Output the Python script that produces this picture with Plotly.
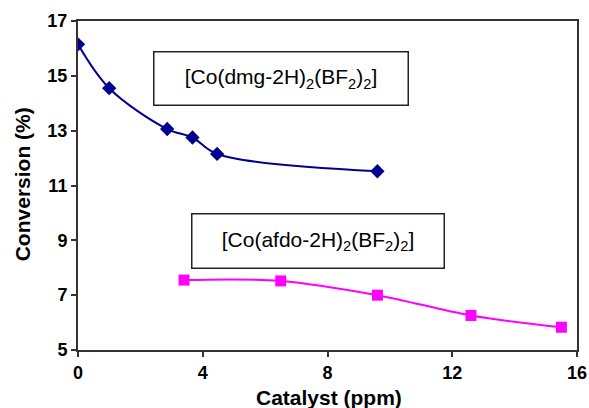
import plotly.graph_objects as go

dmg_x = [0, 1.0, 2.86, 3.67, 4.46, 9.6]
dmg_y = [16.15, 14.55, 13.06, 12.75, 12.15, 11.52]
afdo_x = [3.4, 6.5, 9.6, 12.6, 15.5]
afdo_y = [7.55, 7.52, 7.0, 6.26, 5.83]

x_ticks = [0, 4, 8, 12, 16]
y_ticks = [5, 7, 9, 11, 13, 15, 17]

FONT = "Liberation Sans, Arial"

fig = go.Figure()
fig.add_trace(go.Scatter(x=dmg_x, y=dmg_y, mode="lines+markers",
                         line=dict(color="#000090", width=2, shape="spline", smoothing=1),
                         marker=dict(symbol="diamond", size=11, color="#000090")))
fig.add_trace(go.Scatter(x=afdo_x, y=afdo_y, mode="lines+markers",
                         line=dict(color="#FF00FF", width=2, shape="spline", smoothing=1),
                         marker=dict(symbol="square", size=11, color="#FF00FF")))

fig.add_annotation(xref="paper", yref="paper", x=0.406, y=0.824,
                   xanchor="center", yanchor="middle",
                   text="[Co(dmg-2H)<sub>2</sub>(BF<sub>2</sub>)<sub>2</sub>]",
                   showarrow=False, width=249, height=48, borderpad=2,
                   bordercolor="#222", borderwidth=1.5, bgcolor="white",
                   font=dict(family=FONT, size=21, color="black"))
fig.add_annotation(xref="paper", yref="paper", x=0.48, y=0.331,
                   xanchor="center", yanchor="middle",
                   text="[Co(afdo-2H)<sub>2</sub>(BF<sub>2</sub>)<sub>2</sub>]",
                   showarrow=False, width=247, height=49, borderpad=2,
                   bordercolor="#222", borderwidth=1.5, bgcolor="white",
                   font=dict(family=FONT, size=21, color="black"))

# axis titles
fig.add_annotation(xref="paper", yref="paper", x=0.504, y=-0.145,
                   xanchor="center", yanchor="middle", showarrow=False,
                   text="<b>Catalyst (ppm)</b>",
                   font=dict(family=FONT, size=21, color="black"))
fig.add_annotation(xref="paper", yref="paper", x=-0.112, y=0.504,
                   xanchor="center", yanchor="middle", showarrow=False,
                   textangle=-90, text="<b>Conversion (%)</b>",
                   font=dict(family=FONT, size=21, color="black"))

axis_common = dict(showgrid=False, zeroline=False, showline=True, linecolor="#333",
                   linewidth=2, mirror=True, ticks="outside", ticklen=5, tickwidth=2,
                   tickcolor="#333", automargin=False,
                   tickfont=dict(family=FONT, size=18, color="black", weight="bold"))

fig.update_layout(
    width=589, height=408, margin=dict(l=78, r=12, t=21, b=58),
    paper_bgcolor="white", plot_bgcolor="white", showlegend=False,
    xaxis=dict(range=[0, 16], tickvals=x_ticks, **axis_common),
    yaxis=dict(range=[5, 17], tickvals=y_ticks, **axis_common),
)
fig.write_html("out.html")
